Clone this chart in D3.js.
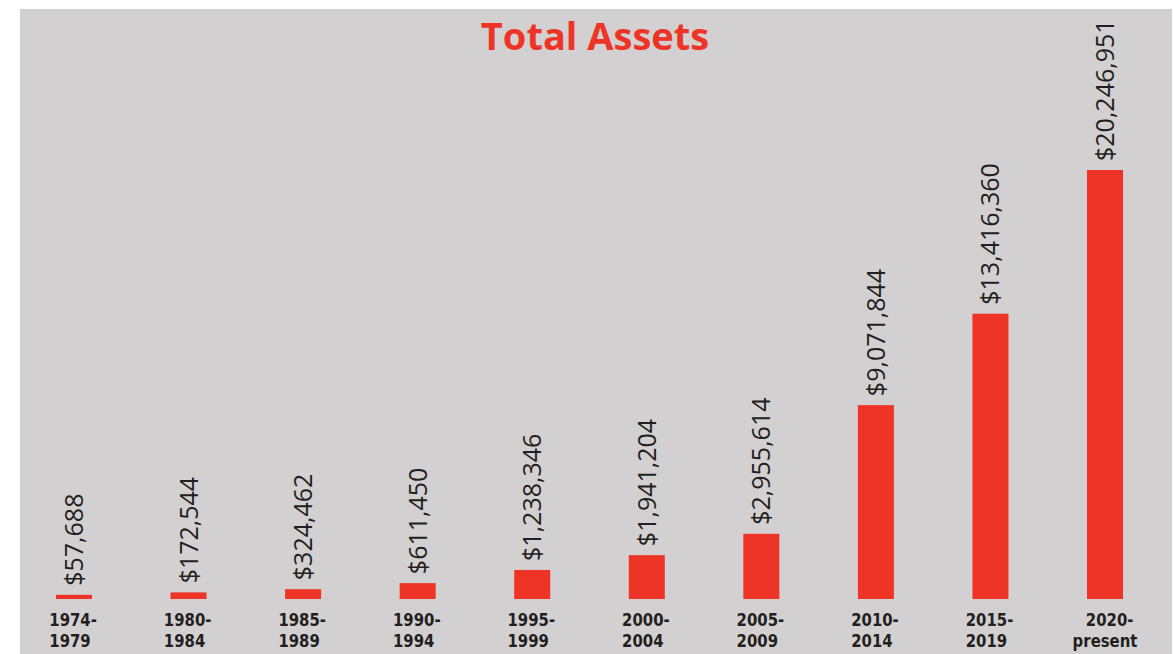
<!DOCTYPE html>
<html>
<head>
<meta charset="utf-8">
<script src="https://cdn.jsdelivr.net/npm/d3@7"></script>
<style>
  body { margin: 0; background: #fff; }
</style>
</head>
<body>
<div class="canvas"></div>
<script>
// data
const periods = ['1974-1979', '1980-1984', '1985-1989', '1990-1994', '1995-1999',
                 '2000-2004', '2005-2009', '2010-2014', '2015-2019', '2020-present'];
const assets = [57688, 172544, 324462, 611450, 1238346,
                1941204, 2955614, 9071844, 13416360, 20246951];
const labelLines = [['1974-', '1979'], ['1980-', '1984'], ['1985-', '1989'], ['1990-', '1994'],
                    ['1995-', '1999'], ['2000-', '2004'], ['2005-', '2009'], ['2010-', '2014'],
                    ['2015-', '2019'], ['2020-', 'present']];

const data = periods.map((p, i) => ({name: p, value: assets[i], lines: labelLines[i]}));

const width = 1173, height = 654;
const red = '#ee3427', ink = '#231f20';

const svg = d3.select('.canvas')
    .append('svg')
    .attr('width', width)
    .attr('height', height);

// gray panel
svg.append('rect')
    .attr('x', 20)
    .attr('y', 9)
    .attr('width', 1152)
    .attr('height', height - 9)
    .attr('fill', '#d3d0d1');

// title
svg.append('text')
    .attr('x', 595)
    .attr('y', 50)
    .attr('text-anchor', 'middle')
    .attr('font-family', 'Open Sans, sans-serif')
    .attr('font-weight', 700)
    .attr('font-size', 38)
    .attr('fill', red)
    .text('Total Assets');

// scales
const x = d3.scaleBand()
    .domain(periods)
    .range([16.7, 1162.3])
    .paddingInner(0.6857)
    .paddingOuter(0.3429);

const y = d3.scaleLinear()
    .domain([0, d3.max(assets)])
    .range([596, 170]);

const baseY = 599;

// bars
svg.selectAll('rect.bar')
    .data(data)
    .enter()
    .append('rect')
    .attr('class', 'bar')
    .attr('x', d => x(d.name))
    .attr('y', d => y(d.value))
    .attr('width', x.bandwidth())
    .attr('height', d => baseY - y(d.value))
    .attr('fill', red);

// value labels (rotated)
svg.selectAll('text.value')
    .data(data)
    .enter()
    .append('text')
    .attr('class', 'value')
    .attr('transform', d => `translate(${x(d.name) + x.bandwidth() / 2 + 9}, ${y(d.value) - 9}) rotate(-90)`)
    .attr('font-family', 'Open Sans, sans-serif')
    .attr('font-size', 25)
    .attr('fill', ink)
    .text(d => d3.format('$,')(d.value));

// category labels: one text with two lines, squeezed to look condensed
const squeeze = 0.92;
const cats = svg.selectAll('text.cat')
    .data(data)
    .enter()
    .append('text')
    .attr('class', 'cat')
    .attr('transform', d => `translate(${x(d.name) + x.bandwidth() / 2}, 0) scale(${squeeze}, 1)`)
    .attr('font-family', 'DejaVu Sans Condensed, DejaVu Sans, sans-serif')
    .attr('font-weight', 700)
    .attr('font-size', 18)
    .attr('fill', ink);

cats.each(function(d) {
    const t = d3.select(this);
    const spans = d.lines.map((line, i) => t.append('tspan')
        .attr('y', 626 + i * 21.5)
        .text(line));
    const w = spans.map(s => s.node().getComputedTextLength());
    const maxW = d3.max(w);
    spans.forEach((s, i) => {
        // left aligned inside a centred block, unless the second line is the wider one
        if (w[1] > w[0]) s.attr('x', -w[i] / 2 + (i === 0 ? 5 : 0));
        else s.attr('x', -maxW / 2 - 1);
    });
});
</script>
</body>
</html>
